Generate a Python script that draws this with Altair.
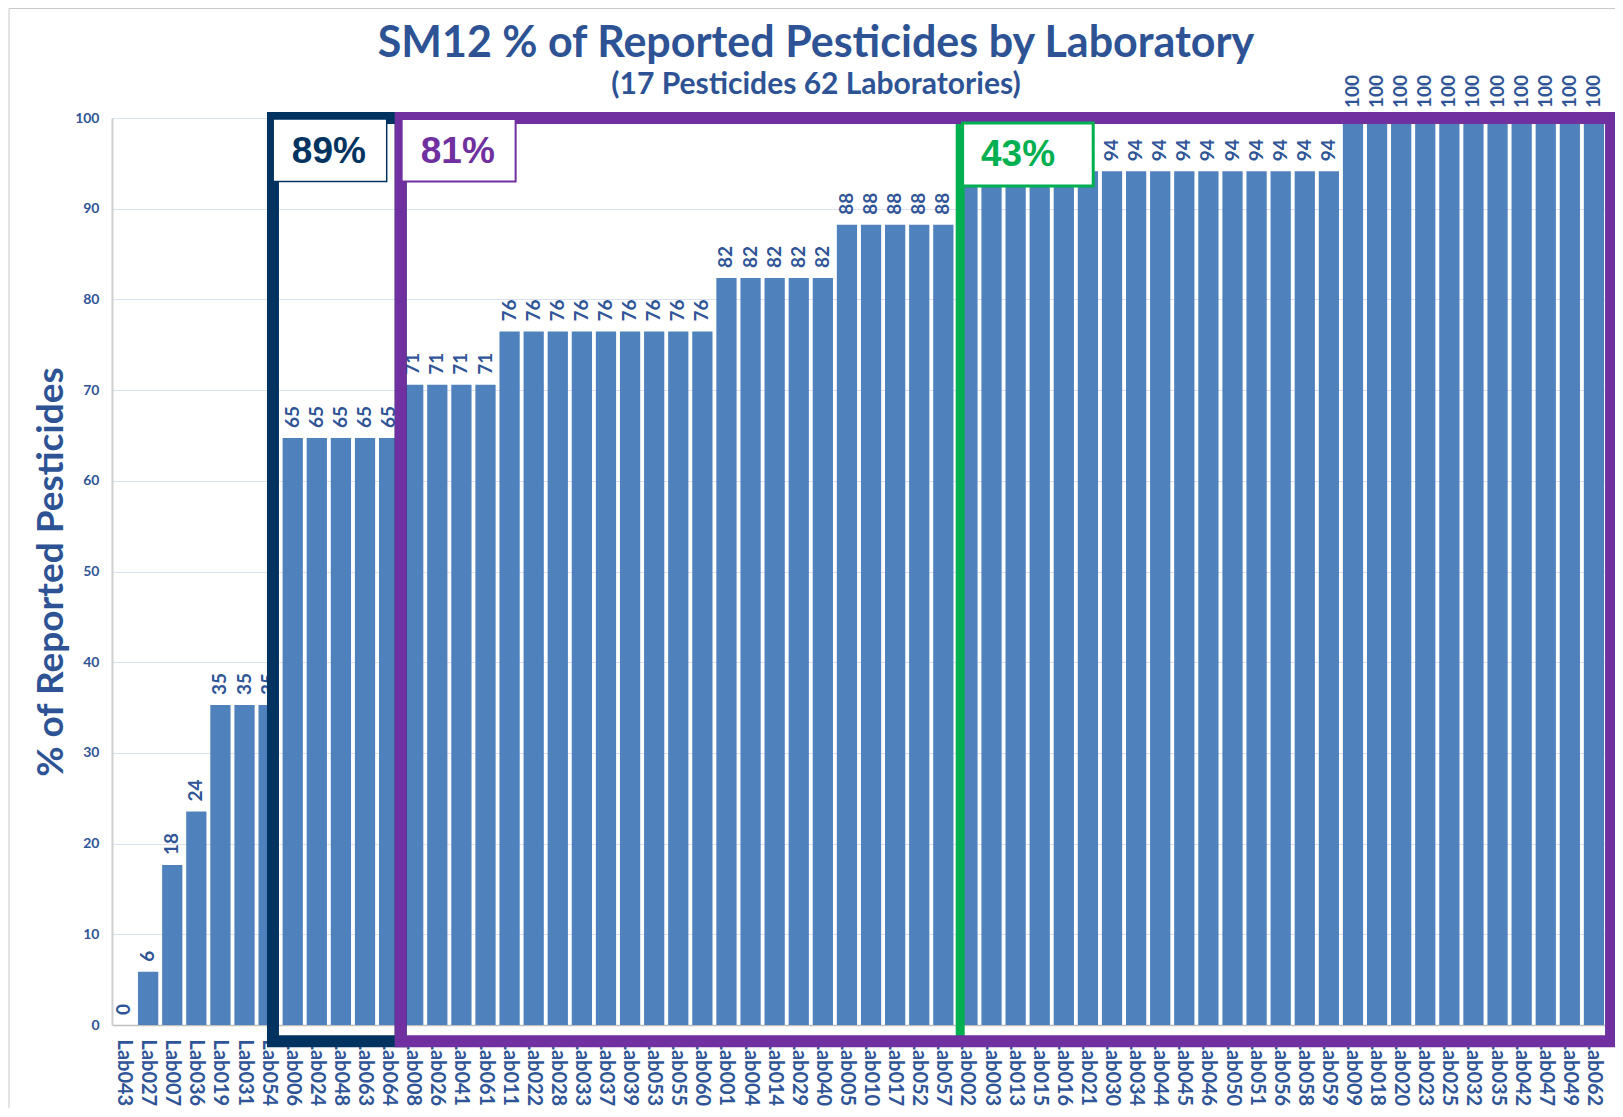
import altair as alt
import pandas as pd

# ---------------- data ----------------
labs = [
    "Lab043", "Lab027", "Lab007", "Lab036", "Lab019", "Lab031", "Lab054",
    "Lab006", "Lab024", "Lab048", "Lab063", "Lab064",
    "Lab008", "Lab026", "Lab041", "Lab061",
    "Lab011", "Lab022", "Lab028", "Lab033", "Lab037", "Lab039", "Lab053", "Lab055", "Lab060",
    "Lab001", "Lab004", "Lab014", "Lab029", "Lab040",
    "Lab005", "Lab010", "Lab017", "Lab052", "Lab057",
    "Lab002", "Lab003", "Lab013", "Lab015", "Lab016", "Lab021", "Lab030", "Lab034",
    "Lab044", "Lab045", "Lab046", "Lab050", "Lab051", "Lab056", "Lab058", "Lab059",
    "Lab009", "Lab018", "Lab020", "Lab023", "Lab025", "Lab032", "Lab035", "Lab042",
    "Lab047", "Lab049", "Lab062",
]
values = [
    0, 5.88, 17.65, 23.53, 35.29, 35.29, 35.29,
    64.71, 64.71, 64.71, 64.71, 64.71,
    70.59, 70.59, 70.59, 70.59,
    76.47, 76.47, 76.47, 76.47, 76.47, 76.47, 76.47, 76.47, 76.47,
    82.35, 82.35, 82.35, 82.35, 82.35,
    88.24, 88.24, 88.24, 88.24, 88.24,
    94.12, 94.12, 94.12, 94.12, 94.12, 94.12, 94.12, 94.12,
    94.12, 94.12, 94.12, 94.12, 94.12, 94.12, 94.12, 94.12,
    100, 100, 100, 100, 100, 100, 100, 100,
    100, 100, 100,
]

title_text = "SM12 % of Reported Pesticides by Laboratory"
subtitle_text = "(17 Pesticides 62 Laboratories)"
y_title = "% of Reported Pesticides"

# annotation groups (x in bar-index units, y in % units)
group_labels = ["89%", "81%", "43%"]
group_colors = ["#00335F", "#7030A0", "#00B050"]

frame_x0 = [6.18, 11.48]
frame_x1 = [11.48, 61.71]
frame_top = [100, 100]
frame_bottom = [-1.8, -1.8]

green_x = [34.7]
green_y0 = [-1.8]
green_y1 = [100]

box_x0 = [6.19, 11.52, 34.8]
box_x1 = [10.90, 16.25, 40.22]
box_y0 = [99.9, 99.9, 99.45]
box_y1 = [93.0, 93.0, 92.5]
box_sw = [1.5, 2, 3]
box_tx = [8.5, 13.85, 37.1]
box_ty = [96.3, 96.3, 95.9]

# ---------------- styling ----------------
BAR = "#4F81BD"
TXT = "#2F5597"
TITLE = "#2E5395"

df = pd.DataFrame({"lab": labs, "v": values})

x_band = alt.X(
    "lab:N", sort=labs,
    scale=alt.Scale(paddingInner=0.16, paddingOuter=0.08),
    axis=alt.Axis(
        title=None, labelAngle=90, labelAlign="left", labelBaseline="middle",
        labelPadding=14, labelFont="Lato", labelFontSize=20, labelFontWeight="bold",
        labelColor=TXT, ticks=False, domainColor="#BFBFBF", domainWidth=1.5,
        labelOverlap=False,
    ),
)
y_axis = alt.Axis(
    values=list(range(0, 101, 10)), title=y_title,
    titleFont="Lato", titleFontSize=37, titleFontWeight="bold", titleColor=TITLE,
    titleX=-61, titleY=453.5, titleAngle=270, titleAlign="center", titleBaseline="middle",
    grid=True, gridColor="#D9E1F2", gridWidth=1, ticks=False,
    domainColor="#D0D0D0", domainWidth=2, labelPadding=13,
    labelFont="Lato", labelFontSize=14, labelFontWeight="bold", labelColor=TXT,
)
ys = alt.Scale(domain=[0, 100], nice=False)
xs = alt.Scale(domain=[-0.5, 61.5], nice=False, zero=False)

y_enc = alt.Y("v:Q", scale=ys, axis=y_axis)

bars = alt.Chart(df).mark_bar(color=BAR).encode(x=x_band, y=y_enc)
vtext = alt.Chart(df).mark_text(
    angle=270, align="left", baseline="middle", dx=10,
    font="Lato", fontSize=19, fontWeight="bold", color=TXT,
).encode(x=x_band, y=y_enc, text=alt.Text("v:Q", format=".0f"))

main = alt.layer(bars, vtext)

green_df = pd.DataFrame({"x": green_x, "y0": green_y0, "y1": green_y1})
green = alt.Chart(green_df).mark_rule(color="#00B050", strokeWidth=9).encode(
    x=alt.X("x:Q", scale=xs, axis=None),
    y=alt.Y("y0:Q", scale=ys, axis=y_axis),
    y2="y1:Q",
)

frames_df = pd.DataFrame({
    "x0": frame_x0, "x1": frame_x1, "y0": frame_top, "y1": frame_bottom,
    "c": group_colors[:2],
})
frames = alt.Chart(frames_df).mark_rect(fillOpacity=0, strokeWidth=12).encode(
    x=alt.X("x0:Q", scale=xs, axis=None), x2="x1:Q",
    y=alt.Y("y0:Q", scale=ys, axis=y_axis), y2="y1:Q",
    stroke=alt.Stroke("c:N", scale=None),
)

boxes_df = pd.DataFrame({
    "x0": box_x0, "x1": box_x1, "y0": box_y0, "y1": box_y1,
    "c": group_colors, "sw": box_sw, "tx": box_tx, "ty": box_ty, "t": group_labels,
})
boxes = alt.Chart(boxes_df).mark_rect(fill="white").encode(
    x=alt.X("x0:Q", scale=xs, axis=None), x2="x1:Q",
    y=alt.Y("y0:Q", scale=ys, axis=y_axis), y2="y1:Q",
    stroke=alt.Stroke("c:N", scale=None),
    strokeWidth=alt.StrokeWidth("sw:Q", scale=None),
)
box_text = alt.Chart(boxes_df).mark_text(
    font="Liberation Sans", fontSize=37, fontWeight="bold", align="center", baseline="middle",
).encode(
    x=alt.X("tx:Q", scale=xs, axis=None),
    y=alt.Y("ty:Q", scale=ys, axis=y_axis),
    text="t:N",
    color=alt.Color("c:N", scale=None),
)

one = pd.DataFrame({"a": [0]})
frame_left = alt.Chart(one).mark_rule(color="#C8C8C8", strokeWidth=1).encode(
    x=alt.value(-103), y=alt.value(-109.5), y2=alt.value(990)
)
frame_top_line = alt.Chart(one).mark_rule(color="#C8C8C8", strokeWidth=1).encode(
    x=alt.value(-103), x2=alt.value(1503), y=alt.value(-109.5)
)

title_mark = alt.Chart(pd.DataFrame({"t": [title_text]})).mark_text(
    font="Lato", fontSize=43, fontWeight="bold", color=TITLE,
    align="center", baseline="alphabetic",
).encode(x=alt.value(704), y=alt.value(-61), text="t:N")
subtitle_mark = alt.Chart(pd.DataFrame({"t": [subtitle_text]})).mark_text(
    font="Lato", fontSize=30, fontWeight="bold", color=TITLE,
    align="center", baseline="alphabetic",
).encode(x=alt.value(704), y=alt.value(-24), text="t:N")

annot = alt.layer(green, frames, boxes, box_text, frame_left, frame_top_line,
                  title_mark, subtitle_mark)

chart = alt.layer(main, annot).resolve_scale(x="independent").properties(
    width=1494, height=907,
    autosize="none",
    padding={"left": 104, "top": 110, "right": 9, "bottom": 83},
).configure_view(strokeWidth=0)

chart.save("out.html", embed_options={"renderer": "svg", "actions": False})
